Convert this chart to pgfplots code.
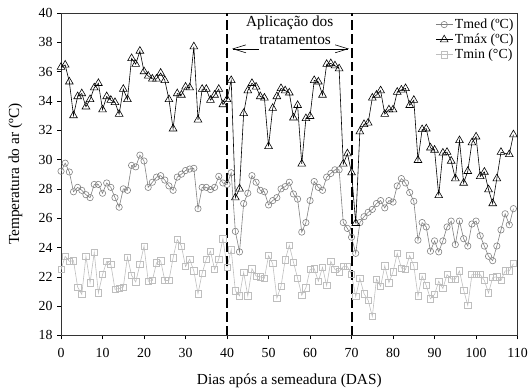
\documentclass[border=0pt]{standalone}
\usepackage{fontspec}
\setmainfont{Liberation Serif}
\usepackage{pgfplots}
\usepackage{pgfplotstable}
\pgfplotsset{compat=1.18}
\usetikzlibrary{arrows.meta}

\definecolor{medgray}{RGB}{128,128,128}
\definecolor{mingray}{RGB}{190,190,190}

% Daily air temperature (degC) by days after sowing
\pgfplotstableread{
d t
0 29.2
1 29.75
2 29.15
3 27.8
4 28.1
5 27.9
6 27.6
7 27.4
8 28.3
9 28.3
10 27.7
11 28.4
12 28.1
13 27.4
14 26.75
15 28.0
16 27.9
17 29.6
18 29.5
19 30.3
20 29.9
21 28.1
22 28.45
23 28.8
24 28.9
25 28.6
26 28.2
27 27.9
28 28.8
29 29.0
30 29.25
31 29.35
32 29.4
33 26.65
34 28.1
35 28.1
36 27.95
37 28.1
38 28.85
39 28.4
40 28.3
41 29.1
42 25.1
43 23.7
44 27.0
45 27.7
46 28.9
47 28.45
48 27.9
49 27.8
50 26.9
51 27.2
52 27.4
53 28.0
54 28.15
55 28.45
56 27.65
57 27.3
58 25.05
59 25.7
60 27.2
61 28.5
62 28.1
63 27.9
64 28.8
65 29.05
66 29.3
67 29.3
68 25.7
69 25.3
70 24.7
71 23.6
72 25.7
73 26.1
74 26.4
75 26.6
76 27.0
77 27.2
78 26.7
79 27.2
80 27.1
81 28.2
82 28.7
83 28.4
84 27.75
85 27.15
86 24.5
87 25.7
88 25.4
89 23.75
90 24.45
91 23.7
92 24.45
93 25.4
94 25.8
95 24.2
96 25.8
97 24.6
98 24.1
99 25.6
100 25.8
101 24.8
102 24.1
103 23.4
104 23.1
105 24.1
106 25.2
107 26.3
108 25.55
109 26.65
}\tmed

\pgfplotstableread{
d t
0 36.3
1 36.45
2 35.3
3 33.0
4 34.3
5 34.5
6 33.6
7 34.1
8 34.9
9 35.2
10 33.4
11 34.3
12 34.05
13 33.9
14 33.1
15 34.8
16 34.1
17 36.9
18 36.5
19 37.4
20 36.0
21 35.7
22 35.5
23 35.5
24 35.9
25 35.4
26 34.1
27 32.1
28 34.5
29 34.4
30 34.95
31 34.9
32 37.7
33 32.7
34 34.8
35 34.8
36 34.05
37 34.4
38 34.8
39 33.75
40 34.1
41 35.4
42 27.4
43 28.0
44 33.15
45 34.7
46 35.2
47 34.95
48 34.3
49 34.2
50 30.9
51 33.5
52 34.3
53 34.85
54 34.7
55 34.55
56 32.85
57 33.7
58 29.7
59 32.8
60 32.95
61 35.4
62 35.3
63 34.4
64 36.5
65 36.55
66 36.4
67 36.2
68 29.7
69 30.4
70 29.1
71 25.65
72 31.9
73 32.4
74 32.5
75 34.2
76 34.4
77 34.7
78 33.1
79 33.4
80 33.4
81 34.6
82 34.75
83 34.85
84 33.7
85 34.05
86 29.95
87 32.05
88 32.1
89 30.8
90 30.65
91 27.55
92 30.45
93 30.5
94 29.9
95 28.7
96 31.3
97 28.4
98 29.2
99 31.15
100 31.55
101 28.85
102 29.15
103 27.95
104 27.0
105 28.7
106 30.5
108 30.35
109 31.7
}\tmax

\pgfplotstableread{
d t
0 22.5
1 23.4
2 23.05
3 23.1
4 21.3
5 20.8
6 23.4
7 21.6
8 23.65
9 20.9
10 22.15
11 23.05
12 22.85
13 21.15
14 21.2
15 21.3
16 23.35
17 22.1
18 21.65
19 22.85
20 24.1
21 21.7
22 21.75
23 22.95
24 23.1
25 21.75
26 21.75
27 23.3
28 24.55
29 24.1
30 22.7
31 23.2
32 22.4
33 20.85
34 22.25
35 23.2
36 23.75
37 22.5
38 23.2
39 24.6
40 22.65
41 23.85
42 21.05
43 20.7
44 22.3
45 20.7
46 22.55
47 22.05
48 22.0
49 21.9
50 23.45
51 22.9
52 20.55
53 21.35
54 23.15
55 24.15
56 23.0
57 21.9
58 20.75
59 21.25
60 22.5
61 22.55
62 21.7
63 22.65
64 21.4
65 23.05
66 22.5
67 22.35
68 22.7
69 22.7
70 22.15
71 20.65
72 21.9
73 20.85
74 20.4
75 19.3
76 21.85
77 21.35
78 22.75
79 21.6
80 22.35
81 23.6
82 22.6
83 22.5
84 23.45
85 22.75
86 20.7
87 22.05
88 21.4
89 20.5
90 20.8
91 21.7
92 21.2
93 22.15
94 21.85
95 21.85
96 22.4
97 21.1
98 20.05
99 22.15
100 22.15
101 22.15
102 21.75
103 20.9
104 21.95
105 22.0
106 21.75
107 22.4
108 22.4
109 22.9
}\tmin

\begin{document}
\begin{tikzpicture}
\begin{axis}[
  at={(0,0)}, anchor=south west,
  scale only axis, width=460bp, height=325bp,
  xmin=0, xmax=110, ymin=18, ymax=40,
  xtick={0,10,...,110}, ytick={18,20,...,40},
  xtick pos=bottom, ytick pos=left,
  tick align=outside, major tick length=4bp,
  tick style={black, line width=0.6bp},
  axis line style={black!80, line width=0.7bp},
  font=\fontsize{14}{16}\selectfont,
  /pgf/number format/assume math mode=true,
  xticklabel style={yshift=-5bp},
  yticklabel style={xshift=-1bp},
  xlabel={Dias após a semeadura (DAS)},
  ylabel={Temperatura do ar (ºC)},
  every axis x label/.style={at={(axis description cs:0.5,0)}, anchor=center,
    yshift=-46bp, font=\fontsize{15.5}{18}\selectfont},
  every axis y label/.style={at={(axis description cs:-0.1,0.5)}, anchor=center,
    rotate=90, font=\fontsize{15.5}{18}\selectfont},
  legend style={draw=none, fill=none, at={(1,1)}, anchor=north east,
    xshift=-1bp, yshift=-3bp, row sep=0bp,
    font=\fontsize{14}{16}\selectfont, inner sep=1bp},
  legend cell align=left,
]
\addplot[medgray, line width=0.6bp, mark=o, mark size=3.2bp,
  mark options={fill=white, solid}] table[x=d, y=t] {\tmed};
\addlegendentry{Tmed (ºC)}
\addplot[black, line width=0.6bp, mark=triangle, mark size=4.5bp,
  mark options={fill=white, solid}] table[x=d, y=t] {\tmax};
\addlegendentry{Tmáx (ºC)}
\addplot[mingray, line width=0.6bp, mark=square, mark size=3.2bp,
  mark options={fill=white, solid}] table[x=d, y=t] {\tmin};
\addlegendentry{Tmin (°C)}

% treatment application window
\draw[black, line width=2bp, dash pattern=on 10bp off 4bp] (axis cs:40,18) -- (axis cs:40,40);
\draw[black, line width=2bp, dash pattern=on 10bp off 4bp] (axis cs:70,18) -- (axis cs:70,40);
\node[inner sep=0pt, font=\fontsize{15.5}{18}\selectfont] at (axis cs:55.1,39.35) {Aplicação dos};
\node[inner sep=0pt, font=\fontsize{15.5}{18}\selectfont] at (axis cs:56.4,38.15) {tratamentos};
\draw[-{Straight Barb[length=13bp, width=8bp]}, line width=0.6bp] (axis cs:47.6,37.55) -- (axis cs:41.2,37.55);
\draw[-{Straight Barb[length=13bp, width=8bp]}, line width=0.6bp] (axis cs:57.5,37.55) -- (axis cs:69.4,37.55);
\end{axis}
\path[use as bounding box] (-61.5bp,-56bp) rectangle (469.3bp,338bp);
\end{tikzpicture}
\end{document}
